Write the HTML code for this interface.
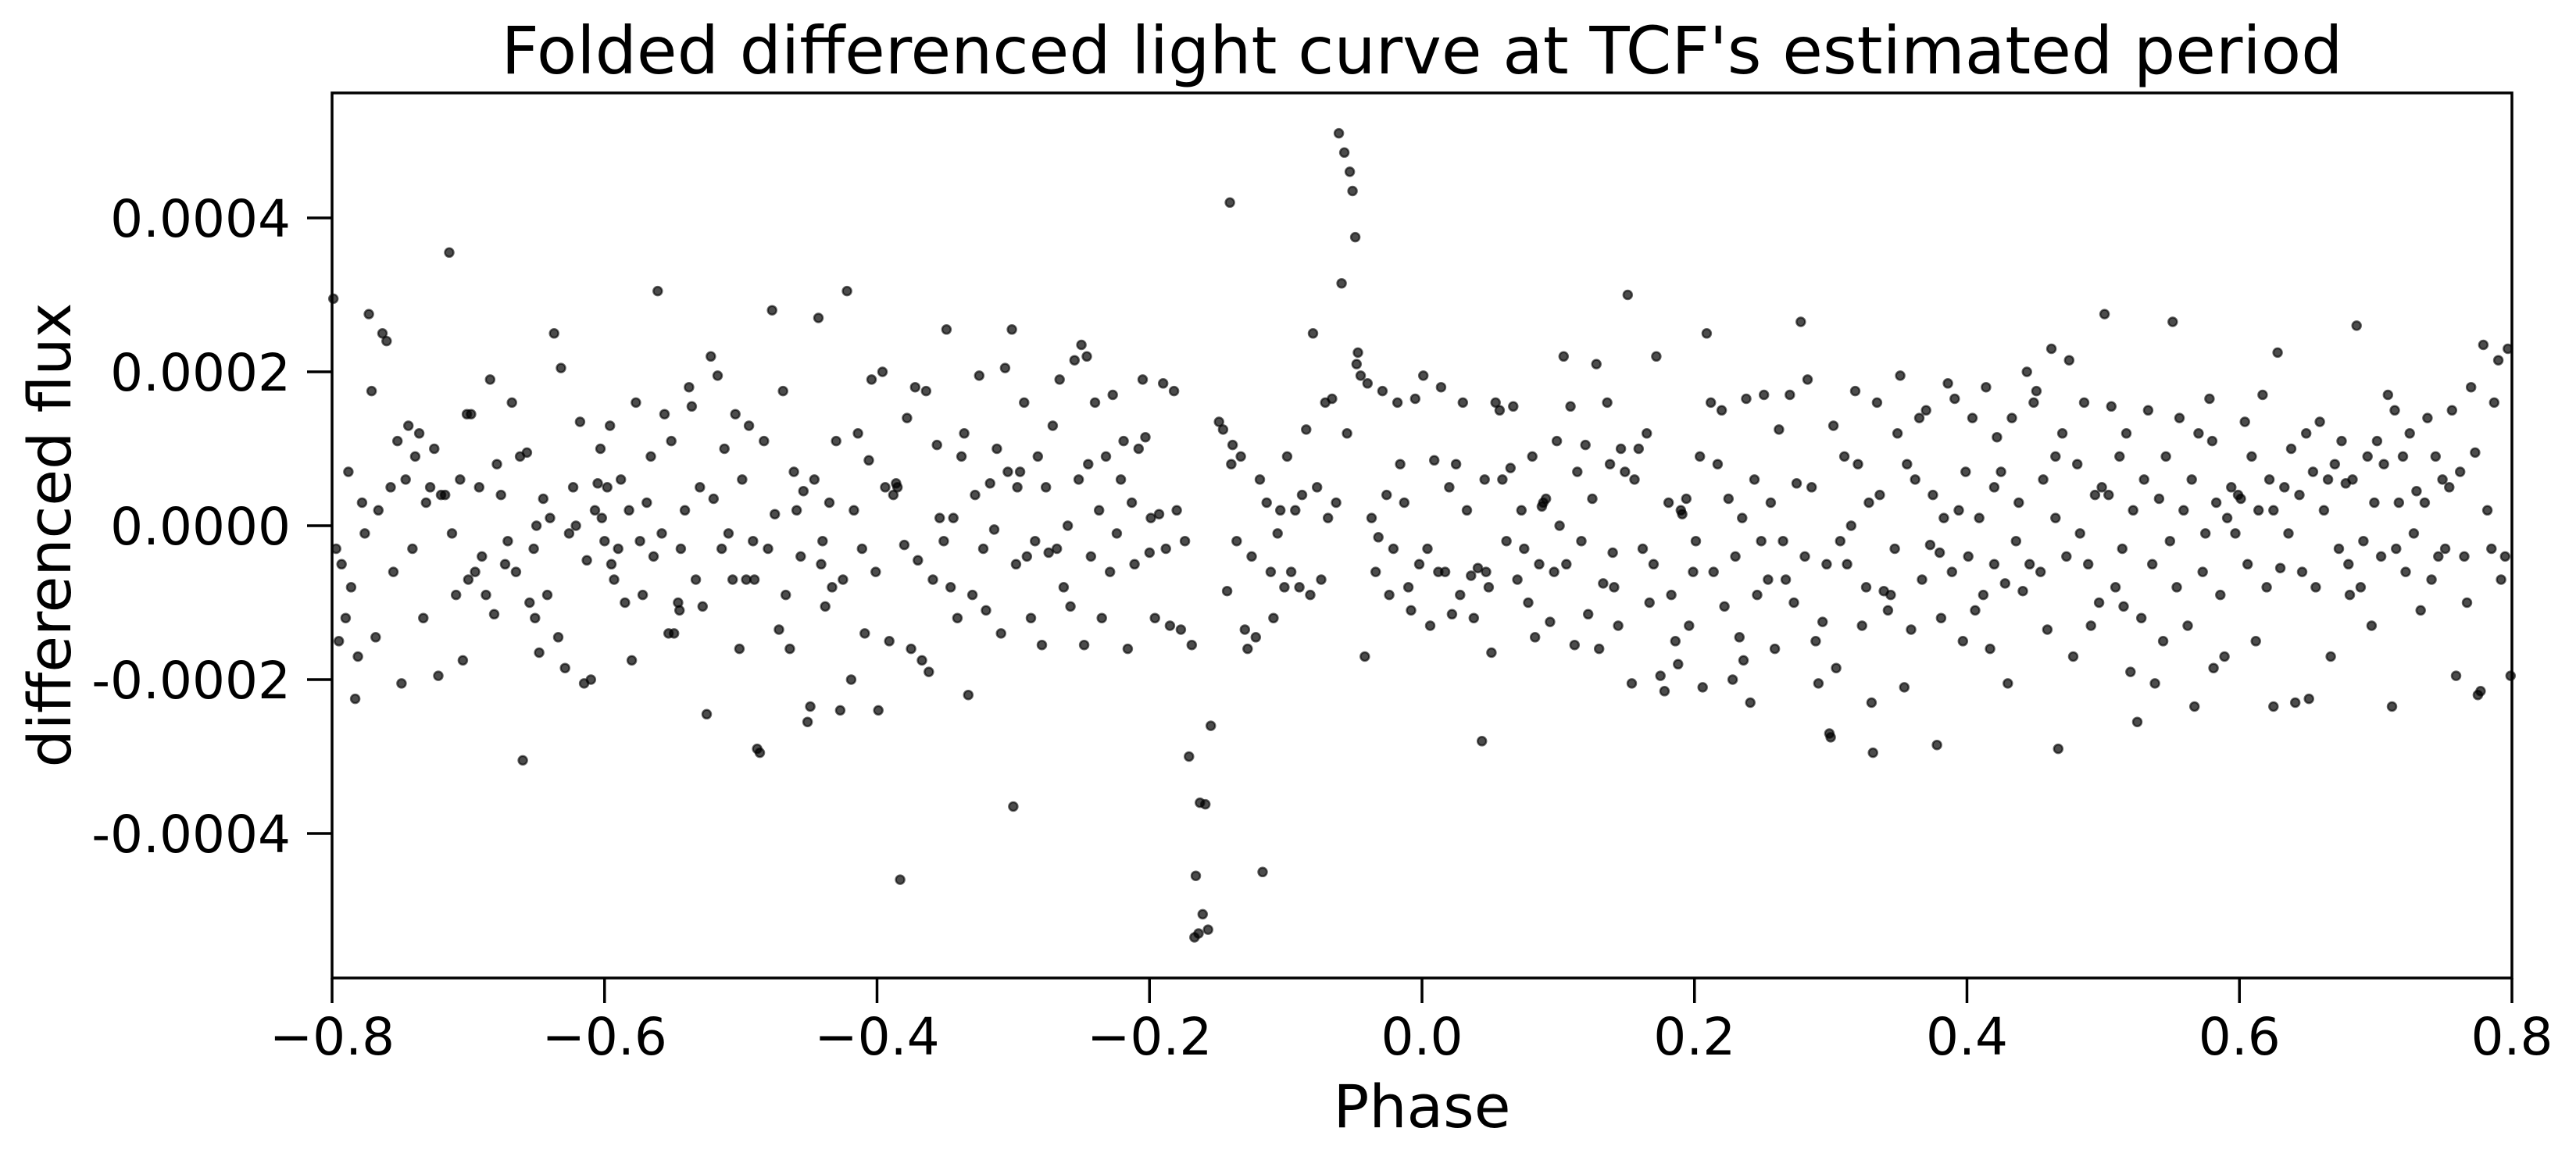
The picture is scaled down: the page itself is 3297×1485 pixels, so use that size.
<!DOCTYPE html>
<html>
<head>
<meta charset="utf-8">
<style>
html,body{margin:0;padding:0;background:#fff;}
svg{display:block;}
text{font-family:"DejaVu Sans","Liberation Sans",sans-serif;fill:#000;}
</style>
</head>
<body>
<svg id="chart" width="3297" height="1485" viewBox="0 0 3297 1485" xmlns="http://www.w3.org/2000/svg">
<rect x="0" y="0" width="3297" height="1485" fill="#fff"/>
<text x="1820" y="94" font-size="84" text-anchor="middle">Folded differenced light curve at TCF's estimated period</text>
<g id="points"></g>
<g id="axes"></g>
<text x="1820" y="1443" font-size="76" text-anchor="middle">Phase</text>
<text transform="translate(90,685) rotate(-90)" x="0" y="0" font-size="76" text-anchor="middle">differenced flux</text>
</svg>
<script>
const xTicks = [-0.8,-0.6,-0.4,-0.2,0.0,0.2,0.4,0.6,0.8];
const xTickLabels = ["\u22120.8","\u22120.6","\u22120.4","\u22120.2","0.0","0.2","0.4","0.6","0.8"];
const yTicks = [0.0004,0.0002,0,-0.0002,-0.0004];
const yTickLabels = ["0.0004","0.0002","0.0000","-0.0002","-0.0004"];
const phase = [
-0.799,-0.797,-0.795,-0.793,-0.790,-0.788,-0.786,-0.783,-0.781,-0.778,-0.776,-0.773,-0.771,-0.768,-0.766,-0.763,-0.760,-0.757,-0.755,-0.752,
-0.749,-0.746,-0.744,-0.741,-0.739,-0.736,-0.733,-0.731,-0.728,-0.725,-0.722,-0.720,-0.717,-0.714,-0.712,-0.709,-0.706,-0.704,-0.701,-0.700,
-0.698,-0.695,-0.692,-0.690,-0.687,-0.684,-0.681,-0.679,-0.676,-0.673,-0.671,-0.668,-0.665,-0.662,-0.660,-0.657,-0.655,-0.652,-0.650,-0.651,
-0.648,-0.645,-0.642,-0.640,-0.637,-0.634,-0.632,-0.629,-0.626,-0.623,-0.621,-0.618,-0.615,-0.613,-0.610,-0.607,-0.605,-0.602,-0.600,-0.603,
-0.598,-0.596,-0.593,-0.590,-0.588,-0.585,-0.582,-0.580,-0.577,-0.574,-0.572,-0.569,-0.566,-0.564,-0.561,-0.558,-0.556,-0.553,-0.551,-0.595,
-0.549,-0.546,-0.544,-0.541,-0.538,-0.536,-0.533,-0.530,-0.528,-0.525,-0.522,-0.520,-0.517,-0.514,-0.512,-0.509,-0.506,-0.504,-0.501,-0.545,
-0.499,-0.496,-0.494,-0.491,-0.488,-0.486,-0.483,-0.480,-0.477,-0.475,-0.472,-0.469,-0.467,-0.464,-0.461,-0.459,-0.456,-0.454,-0.451,-0.490,
-0.449,-0.446,-0.443,-0.441,-0.438,-0.435,-0.433,-0.430,-0.427,-0.425,-0.422,-0.419,-0.417,-0.414,-0.411,-0.409,-0.406,-0.404,-0.401,-0.440,
-0.399,-0.396,-0.394,-0.391,-0.388,-0.386,-0.383,-0.380,-0.378,-0.375,-0.372,-0.370,-0.367,-0.364,-0.362,-0.359,-0.356,-0.354,-0.351,-0.385,
-0.349,-0.346,-0.344,-0.341,-0.338,-0.336,-0.333,-0.330,-0.328,-0.325,-0.322,-0.320,-0.317,-0.314,-0.312,-0.309,-0.306,-0.304,-0.301,-0.300,
-0.298,-0.295,-0.292,-0.290,-0.287,-0.284,-0.282,-0.279,-0.276,-0.274,-0.271,-0.268,-0.266,-0.263,-0.260,-0.258,-0.255,-0.252,-0.250,-0.297,
-0.248,-0.245,-0.243,-0.240,-0.237,-0.235,-0.232,-0.229,-0.227,-0.224,-0.221,-0.219,-0.216,-0.213,-0.211,-0.208,-0.205,-0.203,-0.200,-0.246,
-0.199,-0.196,-0.193,-0.190,-0.188,-0.185,-0.182,-0.180,-0.177,-0.174,-0.171,-0.169,-0.167,-0.166,-0.164,-0.163,-0.161,-0.159,-0.157,-0.155,
-0.149,-0.146,-0.143,-0.141,-0.139,-0.136,-0.133,-0.130,-0.128,-0.125,-0.122,-0.119,-0.117,-0.114,-0.111,-0.109,-0.106,-0.104,-0.101,-0.140,
-0.099,-0.096,-0.093,-0.090,-0.088,-0.085,-0.082,-0.080,-0.077,-0.074,-0.071,-0.069,-0.066,-0.063,-0.061,-0.059,-0.057,-0.055,-0.053,-0.051,
-0.049,-0.047,-0.045,-0.042,-0.040,-0.037,-0.034,-0.032,-0.029,-0.026,-0.024,-0.021,-0.018,-0.016,-0.013,-0.010,-0.008,-0.005,-0.002,-0.048,
0.001,0.004,0.006,0.009,0.012,0.014,0.017,0.020,0.022,0.025,0.028,0.030,0.033,0.036,0.038,0.041,0.044,0.046,0.049,0.047,
0.051,0.054,0.057,0.059,0.062,0.065,0.067,0.070,0.073,0.075,0.078,0.081,0.083,0.086,0.089,0.091,0.094,0.097,0.099,0.088,
0.101,0.104,0.106,0.109,0.112,0.114,0.117,0.120,0.122,0.125,0.128,0.130,0.133,0.136,0.138,0.141,0.144,0.146,0.149,0.140,
0.151,0.154,0.156,0.159,0.162,0.165,0.167,0.170,0.172,0.175,0.178,0.181,0.183,0.186,0.188,0.191,0.194,0.196,0.199,0.190,
0.201,0.204,0.206,0.209,0.212,0.214,0.217,0.220,0.222,0.225,0.228,0.230,0.233,0.236,0.238,0.241,0.244,0.246,0.249,0.235,
0.251,0.254,0.256,0.259,0.262,0.265,0.267,0.270,0.273,0.275,0.278,0.281,0.283,0.286,0.289,0.291,0.294,0.297,0.299,0.300,
0.302,0.304,0.307,0.310,0.312,0.315,0.318,0.320,0.323,0.326,0.328,0.331,0.334,0.336,0.339,0.342,0.344,0.347,0.349,0.330,
0.351,0.354,0.356,0.359,0.362,0.365,0.367,0.370,0.373,0.375,0.378,0.381,0.383,0.386,0.389,0.391,0.394,0.397,0.399,0.380,
0.401,0.404,0.406,0.409,0.412,0.414,0.417,0.420,0.422,0.425,0.428,0.430,0.433,0.436,0.438,0.441,0.444,0.446,0.449,0.420,
0.451,0.454,0.456,0.459,0.462,0.465,0.467,0.470,0.473,0.475,0.478,0.481,0.483,0.486,0.489,0.491,0.494,0.497,0.499,0.465,
0.501,0.504,0.506,0.509,0.512,0.514,0.517,0.520,0.522,0.525,0.528,0.530,0.533,0.536,0.538,0.541,0.544,0.546,0.549,0.515,
0.551,0.554,0.556,0.559,0.562,0.565,0.567,0.570,0.573,0.575,0.578,0.581,0.583,0.586,0.589,0.591,0.594,0.597,0.599,0.580,
0.601,0.604,0.606,0.609,0.612,0.614,0.617,0.620,0.622,0.625,0.628,0.630,0.633,0.636,0.638,0.641,0.644,0.646,0.649,0.625,
0.651,0.654,0.656,0.659,0.662,0.665,0.667,0.670,0.673,0.675,0.678,0.681,0.683,0.686,0.689,0.691,0.694,0.697,0.699,0.680,
0.701,0.704,0.706,0.709,0.712,0.714,0.717,0.720,0.722,0.725,0.728,0.730,0.733,0.736,0.738,0.741,0.744,0.746,0.749,0.715,
0.751,0.754,0.756,0.759,0.762,0.765,0.767,0.770,0.773,0.775,0.777,0.779,0.782,0.785,0.787,0.790,0.792,0.795,0.797,0.799
];
// flux in units of 1e-4
const flux = [
2.95,-0.3,-1.5,-0.5,-1.2,0.7,-0.8,-2.25,-1.7,0.3,-0.1,2.75,1.75,-1.45,0.2,2.5,2.4,0.5,-0.6,1.1,
-2.05,0.6,1.3,-0.3,0.9,1.2,-1.2,0.3,0.5,1.0,-1.95,0.4,0.4,3.55,-0.1,-0.9,0.6,-1.75,1.45,-0.7,
1.45,-0.6,0.5,-0.4,-0.9,1.9,-1.15,0.8,0.4,-0.5,-0.2,1.6,-0.6,0.9,-3.05,0.95,-1.0,-0.3,0.0,-1.2,
-1.65,0.35,-0.9,0.1,2.5,-1.45,2.05,-1.85,-0.1,0.5,0.0,1.35,-2.05,-0.45,-2.0,0.2,0.55,0.1,-0.2,1.0,
0.5,1.3,-0.7,-0.3,0.6,-1.0,0.2,-1.75,1.6,-0.2,-0.9,0.3,0.9,-0.4,3.05,-0.1,1.45,-1.4,1.1,-0.5,
-1.4,-1.0,-0.3,0.2,1.8,1.55,-0.7,0.5,-1.05,-2.45,2.2,0.35,1.95,-0.3,1.0,-0.1,-0.7,1.45,-1.6,-1.1,
0.6,-0.7,1.3,-0.2,-2.9,-2.95,1.1,-0.3,2.8,0.15,-1.35,1.75,-0.9,-1.6,0.7,0.2,-0.4,0.45,-2.55,-0.7,
-2.35,0.6,2.7,-0.5,-1.05,0.3,-0.8,1.1,-2.4,-0.7,3.05,-2.0,0.2,1.2,-0.3,-1.4,0.85,1.9,-0.6,-0.2,
-2.4,2.0,0.5,-1.5,0.4,0.55,-4.6,-0.25,1.4,-1.6,1.8,-0.45,-1.75,1.75,-1.9,-0.7,1.05,0.1,-0.2,0.5,
2.55,-0.8,0.1,-1.2,0.9,1.2,-2.2,-0.9,0.4,1.95,-0.3,-1.1,0.55,-0.05,1.0,-1.4,2.05,0.7,2.55,-3.65,
-0.5,0.7,1.6,-0.4,-1.2,-0.2,0.9,-1.55,0.5,-0.35,1.3,-0.3,1.9,-0.8,0.0,-1.05,2.15,0.6,2.35,0.5,
-1.55,0.8,-0.4,1.6,0.2,-1.2,0.9,-0.6,1.7,-0.1,0.6,1.1,-1.6,0.3,-0.5,1.0,1.9,1.15,-0.35,2.2,
0.1,-1.2,0.15,1.85,-0.3,-1.3,1.75,0.2,-1.35,-0.2,-3.0,-1.55,-5.35,-4.55,-5.3,-3.6,-5.05,-3.62,-5.25,-2.6,
1.35,1.25,-0.85,4.2,1.05,-0.2,0.9,-1.35,-1.6,-0.4,-1.45,0.6,-4.5,0.3,-0.6,-1.2,-0.1,0.2,-0.8,0.8,
0.9,-0.6,0.2,-0.8,0.4,1.25,-0.9,2.5,0.5,-0.7,1.6,0.1,1.65,0.3,5.1,3.15,4.85,1.2,4.6,4.35,
3.75,2.25,1.95,-1.7,1.85,0.1,-0.6,-0.15,1.75,0.4,-0.9,-0.3,1.6,0.8,0.3,-0.8,-1.1,1.65,-0.5,2.1,
1.95,-0.3,-1.3,0.85,-0.6,1.8,-0.6,0.5,-1.15,0.8,-0.9,1.6,0.2,-0.65,-1.2,-0.55,-2.8,0.6,-0.8,-0.6,
-1.65,1.6,1.5,0.6,-0.2,0.75,1.55,-0.7,0.2,-0.3,-1.0,0.9,-1.45,-0.5,0.3,0.35,-1.25,-0.6,1.1,0.25,
0.0,2.2,-0.5,1.55,-1.55,0.7,-0.2,1.05,-1.15,0.35,2.1,-1.6,-0.75,1.6,0.8,-0.8,-1.3,1.0,0.7,-0.35,
3.0,-2.05,0.6,1.0,-0.3,1.2,-1.0,-0.5,2.2,-1.95,-2.15,0.3,-0.9,-1.5,-1.8,0.15,0.35,-1.3,-0.6,0.2,
-0.2,0.9,-2.1,2.5,1.6,-0.6,0.8,1.5,-1.05,0.35,-2.0,-0.4,-1.45,-1.75,1.65,-2.3,0.6,-0.9,-0.2,0.1,
1.7,-0.7,0.3,-1.6,1.25,-0.2,-0.7,1.7,-1.0,0.55,2.65,-0.4,1.9,0.5,-1.5,-2.05,-1.25,-0.5,-2.7,-2.75,
1.3,-1.85,-0.2,0.9,-0.5,0.0,1.75,0.8,-1.3,-0.8,0.3,-2.95,1.6,0.4,-0.85,-1.1,-0.9,-0.3,1.2,-2.3,
1.95,-2.1,0.8,-1.35,0.6,1.4,-0.7,1.5,-0.25,0.4,-2.85,-1.2,0.1,1.85,-0.6,1.65,0.2,-1.5,0.7,-0.35,
-0.4,1.4,-1.1,0.1,-0.9,1.8,-1.6,-0.5,1.15,0.7,-0.75,-2.05,1.4,-0.2,0.3,-0.85,2.0,-0.5,1.6,0.5,
1.75,-0.6,0.6,-1.35,2.3,0.1,-2.9,1.2,-0.4,2.15,-1.7,0.8,-0.1,1.6,-0.5,-1.3,0.4,-1.0,0.5,0.9,
2.75,0.4,1.55,-0.8,0.9,-0.3,1.2,-1.9,0.2,-2.55,-1.2,0.6,1.5,-0.5,-2.05,0.35,-1.5,0.9,-0.2,-1.05,
2.65,-0.8,1.4,0.2,-1.3,0.6,-2.35,1.2,-0.6,-0.1,1.65,-1.85,0.3,-0.9,-1.7,0.1,0.5,-0.1,0.4,1.1,
0.35,1.35,-0.5,0.9,-1.5,0.2,1.7,-0.8,0.6,-2.35,2.25,-0.55,0.5,-0.1,1.0,-2.3,0.4,-0.6,1.2,0.2,
-2.25,0.7,-0.8,1.35,0.2,0.6,-1.7,0.8,-0.3,1.1,0.55,-0.9,0.6,2.6,-0.8,-0.2,0.9,-1.3,0.3,-0.5,
1.1,-0.4,0.8,1.7,-2.35,1.5,0.3,0.9,-0.6,1.2,-0.1,0.45,-1.1,0.3,1.4,-0.7,0.9,-0.4,0.6,-0.3,
-0.3,0.5,1.5,-1.95,0.7,-0.4,-1.0,1.8,0.95,-2.2,-2.15,2.35,0.2,-0.3,1.6,2.15,-0.7,-0.4,2.3,-1.95
];

const NS = "http://www.w3.org/2000/svg";
const L = 425, R = 3215, T = 119, B = 1252;
const xMin = -0.8, xMax = 0.8;
const yZeroPx = 673, yPerUnit = 98.5 / 0.0001;
function xScale(v){ return L + (v - xMin) / (xMax - xMin) * (R - L); }
function yScale(v){ return yZeroPx - v * yPerUnit; }

const pts = document.getElementById('points');
const n = Math.min(phase.length, flux.length);
for (let i = 0; i < n; i++) {
  const cx = xScale(phase[i]);
  const cy = yScale(flux[i] * 1e-4);
  if (cx < L - 6 || cx > R + 6 || cy < T - 6 || cy > B + 6) continue;
  const c = document.createElementNS(NS, 'circle');
  
  
  c.setAttribute('cx', cx.toFixed(1));
  c.setAttribute('cy', cy.toFixed(1));
  c.setAttribute('r', '5.5');
  c.setAttribute('fill', 'rgba(0,0,0,0.7)');
  c.setAttribute('stroke', 'rgba(0,0,0,0.6)');
  c.setAttribute('stroke-width', '2.5');
  pts.appendChild(c);
}

const ax = document.getElementById('axes');
const frame = document.createElementNS(NS, 'rect');


frame.setAttribute('x', L); frame.setAttribute('y', T);
frame.setAttribute('width', R - L); frame.setAttribute('height', B - T);
frame.setAttribute('fill', 'none'); frame.setAttribute('stroke', '#000'); frame.setAttribute('stroke-width', '3.5');
ax.appendChild(frame);

xTicks.forEach((v, i) => {
  const x = xScale(v);
  const t = document.createElementNS(NS, 'line');
  
  
  t.setAttribute('x1', x); t.setAttribute('x2', x);
  t.setAttribute('y1', B); t.setAttribute('y2', B + 32);
  t.setAttribute('stroke', '#000'); t.setAttribute('stroke-width', '3.5');
  ax.appendChild(t);
  const lb = document.createElementNS(NS, 'text');
  
  
  lb.setAttribute('x', x); lb.setAttribute('y', 1350);
  lb.setAttribute('font-size', '66'); lb.setAttribute('text-anchor', 'middle');
  lb.textContent = xTickLabels[i];
  ax.appendChild(lb);
});

yTicks.forEach((v, i) => {
  const y = yScale(v);
  const t = document.createElementNS(NS, 'line');
  
  
  t.setAttribute('x1', L - 32); t.setAttribute('x2', L);
  t.setAttribute('y1', y); t.setAttribute('y2', y);
  t.setAttribute('stroke', '#000'); t.setAttribute('stroke-width', '3.5');
  ax.appendChild(t);
  const lb = document.createElementNS(NS, 'text');
  
  
  lb.setAttribute('x', 372); lb.setAttribute('y', y + 24);
  lb.setAttribute('font-size', '66'); lb.setAttribute('text-anchor', 'end');
  lb.textContent = yTickLabels[i];
  ax.appendChild(lb);
});
</script>
</body>
</html>
